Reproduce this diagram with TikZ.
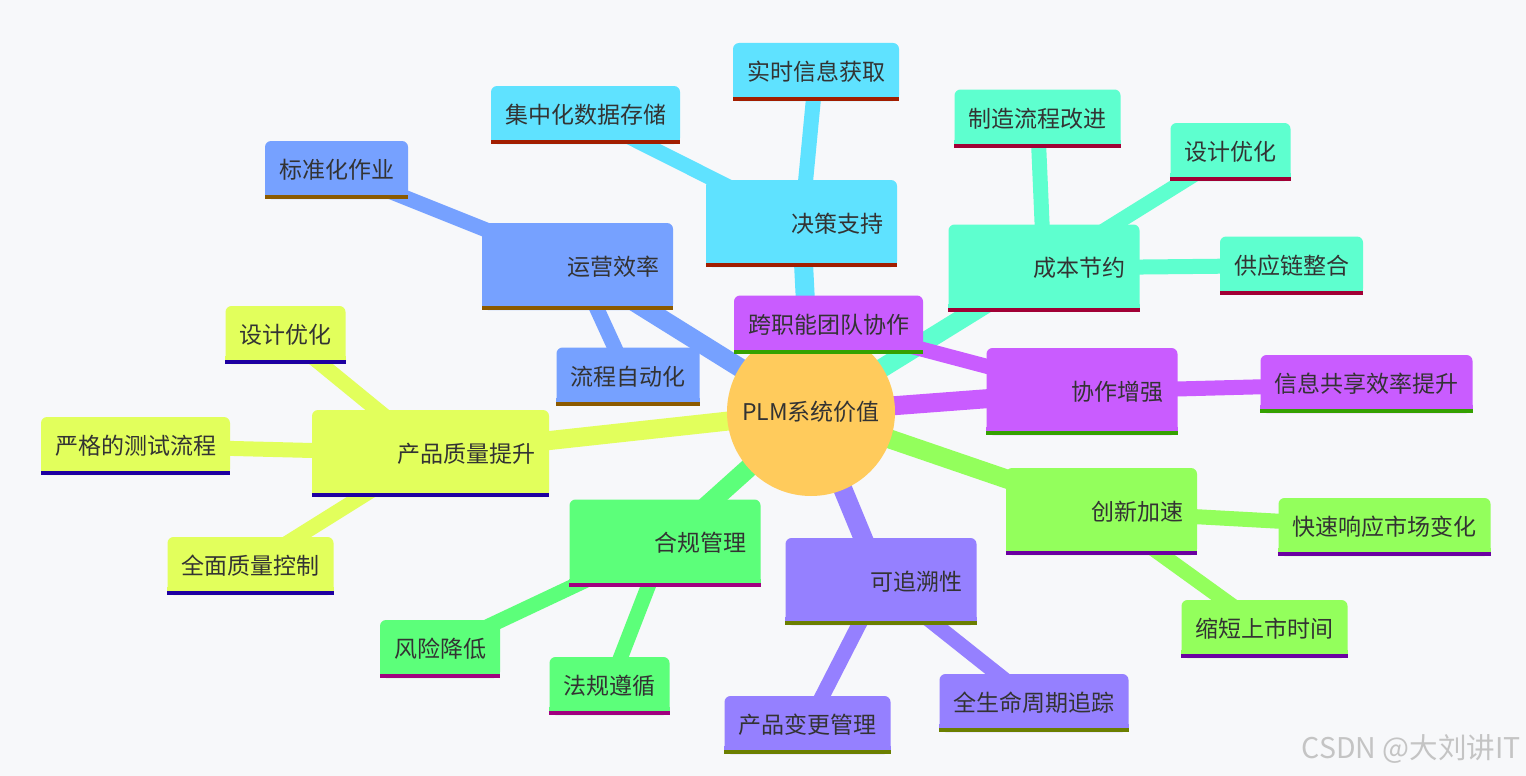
\documentclass[tikz,border=0pt]{standalone}
\usepackage{fontspec}
\usepackage{xcolor}
\newfontfamily\cjk{Noto Sans CJK SC}
\usetikzlibrary{positioning}

\definecolor{bgcol}{HTML}{F7F8FA}
\definecolor{txtgray}{HTML}{333333}
\definecolor{ctrfill}{HTML}{FFCB5C}
\definecolor{opsfill}{HTML}{76A1FF}  \definecolor{opsline}{HTML}{8B5A00}
\definecolor{decfill}{HTML}{5FE2FF}  \definecolor{decline}{HTML}{A21E00}
\definecolor{costfill}{HTML}{5EFFCF} \definecolor{costline}{HTML}{A10035}
\definecolor{colfill}{HTML}{C95CFF}  \definecolor{colline}{HTML}{35A100}
\definecolor{innfill}{HTML}{93FF5C}  \definecolor{innline}{HTML}{6B00A1}
\definecolor{trcfill}{HTML}{9580FF}  \definecolor{trcline}{HTML}{6B7F00}
\definecolor{cmpfill}{HTML}{5CFF7A}  \definecolor{cmpline}{HTML}{A1007F}
\definecolor{qalfill}{HTML}{E2FF5C}  \definecolor{qalline}{HTML}{1E00A1}
\definecolor{wmgray}{HTML}{C4C4C4}

\pgfdeclarelayer{bg}
\pgfdeclarelayer{edges}
\pgfsetlayers{bg,edges,main}

\tikzset{
  mmtext/.style={font=\cjk\fontsize{23}{27}\selectfont, text=txtgray},
  leaf/.style={mmtext, rectangle, rounded corners=6pt, fill=#1,
    inner xsep=14pt, inner ysep=0pt, minimum height=58pt},
  branch/.style={mmtext, rectangle, rounded corners=6pt, fill=#1,
    inner xsep=14pt, inner ysep=0pt, minimum height=87pt,
    text width=163pt, align=right},
  trunk/.style={line width=19pt, draw=#1},
  twig/.style={line width=15pt, draw=#1}
}

\begin{document}
\begin{tikzpicture}[x=1pt,y=-1pt]
  \useasboundingbox (0,0) rectangle (1526,776);
  \begin{pgfonlayer}{bg}
    \fill[bgcol] (0,0) rectangle (1526,776);
  \end{pgfonlayer}

  % Centre
  \node[circle, fill=ctrfill, minimum size=168pt, inner sep=0pt, mmtext] (plm) at (811,412) {PLM系统价值};

  % Main branches
  \node[branch=opsfill]  (ops)  at (577.5,266.5) {运营效率};
  \node[branch=decfill]  (dec)  at (801.5,223.5) {决策支持};
  \node[branch=costfill] (cost) at (1044,268)    {成本节约};
  \node[branch=colfill]  (col)  at (1082,391.5)  {协作增强};
  \node[branch=innfill]  (inn)  at (1101.5,511.5) {创新加速};
  \node[branch=trcfill]  (trc)  at (881,581.5)   {可追溯性};
  \node[branch=cmpfill]  (cmp)  at (665,543)     {合规管理};
  \node[branch=qalfill, text width=209pt] (qal) at (430.5,453.5) {产品质量提升};

  % Leaves
  \node[leaf=opsfill]  (ops1)  at (336.5,170)   {标准化作业};
  \node[leaf=opsfill]  (ops2)  at (628,376.5)   {流程自动化};
  \node[leaf=decfill]  (dec1)  at (585.5,115)   {集中化数据存储};
  \node[leaf=decfill]  (dec2)  at (816,72)      {实时信息获取};
  \node[leaf=costfill] (cost1) at (1037.5,118.5) {制造流程改进};
  \node[leaf=costfill] (cost2) at (1230.5,152)  {设计优化};
  \node[leaf=costfill] (cost3) at (1291.5,265.5) {供应链整合};
  \node[leaf=colfill]  (col1)  at (828.5,324.5) {跨职能团队协作};
  \node[leaf=colfill]  (col2)  at (1366.5,384)  {信息共享效率提升};
  \node[leaf=innfill]  (inn1)  at (1384.5,527)  {快速响应市场变化};
  \node[leaf=innfill]  (inn2)  at (1264.5,629)  {缩短上市时间};
  \node[leaf=trcfill]  (trc1)  at (1034,703)    {全生命周期追踪};
  \node[leaf=trcfill]  (trc2)  at (807.5,725)   {产品变更管理};
  \node[leaf=cmpfill]  (cmp1)  at (609.5,686)   {法规遵循};
  \node[leaf=cmpfill]  (cmp2)  at (440,649)     {风险降低};
  \node[leaf=qalfill]  (qal1)  at (285.5,335)   {设计优化};
  \node[leaf=qalfill]  (qal2)  at (135.5,446)   {严格的测试流程};
  \node[leaf=qalfill]  (qal3)  at (250.5,566)   {全面质量控制};

  % Square bottoms and coloured underlines
  \foreach \n/\f/\u in {ops/opsfill/opsline, ops1/opsfill/opsline, ops2/opsfill/opsline,
      dec/decfill/decline, dec1/decfill/decline, dec2/decfill/decline,
      cost/costfill/costline, cost1/costfill/costline, cost2/costfill/costline, cost3/costfill/costline,
      col/colfill/colline, col1/colfill/colline, col2/colfill/colline,
      inn/innfill/innline, inn1/innfill/innline, inn2/innfill/innline,
      trc/trcfill/trcline, trc1/trcfill/trcline, trc2/trcfill/trcline,
      cmp/cmpfill/cmpline, cmp1/cmpfill/cmpline, cmp2/cmpfill/cmpline,
      qal/qalfill/qalline, qal1/qalfill/qalline, qal2/qalfill/qalline, qal3/qalfill/qalline}{
    \fill[\f] (\n.south west) rectangle ([yshift=8pt]\n.south east);
    \fill[\u] (\n.south west) rectangle ([yshift=4pt]\n.south east);
  }

  % Connectors
  \begin{pgfonlayer}{edges}
    \foreach \m/\c in {ops/opsfill, dec/decfill, cost/costfill, col/colfill,
        inn/innfill, trc/trcfill, cmp/cmpfill, qal/qalfill}{
      \draw[trunk=\c] (plm.center) -- (\m.center);
    }
    \foreach \m/\l/\c in {ops/ops1/opsfill, ops/ops2/opsfill,
        dec/dec1/decfill, dec/dec2/decfill,
        cost/cost1/costfill, cost/cost2/costfill, cost/cost3/costfill,
        col/col1/colfill, col/col2/colfill,
        inn/inn1/innfill, inn/inn2/innfill,
        trc/trc1/trcfill, trc/trc2/trcfill,
        cmp/cmp1/cmpfill, cmp/cmp2/cmpfill,
        qal/qal1/qalfill, qal/qal2/qalfill, qal/qal3/qalfill}{
      \draw[twig=\c] (\m.center) -- (\l.center);
    }
  \end{pgfonlayer}

  % Watermark
  \node[anchor=east, font=\cjk\fontsize{28.5}{32}\selectfont, text=wmgray, inner sep=0pt] (mark) at (1521,749) {CSDN @大刘讲IT};
\end{tikzpicture}
\end{document}
